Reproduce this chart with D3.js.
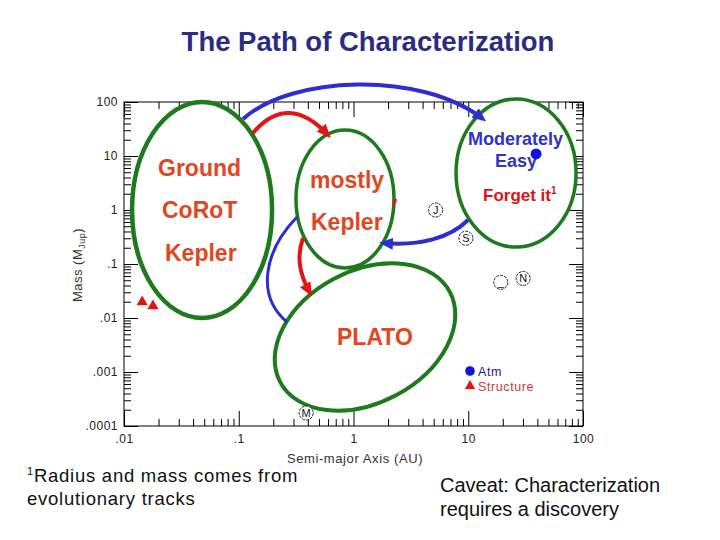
<!DOCTYPE html>
<html><head><meta charset="utf-8">
<script src="https://cdn.jsdelivr.net/npm/d3@7"></script>
<style>
body{margin:0;background:#fff;}
svg{display:block;font-family:"Liberation Sans",Arial,Helvetica,sans-serif;}
</style>
</head><body>
<svg id="chart" width="720" height="540"></svg>
<script>
// ---------------- data ----------------
const xTickValues = [0.01, 0.1, 1, 10, 100];
const xTickLabels = [".01", ".1", "1", "10", "100"];
const yTickValues = [0.0001, 0.001, 0.01, 0.1, 1, 10, 100];
const yTickLabels = [".0001", ".001", ".01", ".1", "1", "10", "100"];

// solar-system reference planets (semi-major axis AU, mass M_Jup)
const planetSymbols = ["M", "J", "S", "_", "N"];
const planetAxis = [0.387, 5.2, 9.54, 19.2, 30.1];
const planetMass = [0.000174, 1.0, 0.30, 0.0457, 0.054];

// characterised exoplanets
const structureAxis = [0.0144, 0.0179];
const structureMass = [0.0198, 0.0167];
const atmAxis = [39];
const atmMass = [10.9];

const legendLabels = ["Atm", "Structure"];

// regions (centre in AU / M_Jup, half size in decades)
const regionNames = ["Ground", "mostly Kepler", "Moderately Easy", "PLATO"];
const regionCenterAU = [0.0479, 0.843, 26.1, 1.26];
const regionCenterMass = [1.0, 1.6, 4.84, 0.00445];
const regionHalfDecX = [0.61, 0.427, 0.523, 0.837];
const regionHalfDecY = [2.0, 1.278, 1.37, 1.222];

// arrows, control points in AU / M_Jup
const arrowTopBlue = [[0.1089, 48.4], [0.280, 303], [3.80, 391], [13.45, 48.4]];
const arrowTopRed = [[0.133, 26.7], [0.2123, 85.4], [0.3508, 83.3], [0.600, 24.5]];
const arrowBackBlue = [[9.95, 0.653], [6.93, 0.303], [3.80, 0.215], [1.81, 0.245]];
const lineLeftBlue = [[0.322, 0.742], [0.169, 0.1817], [0.1386, 0.0267], [0.263, 0.00843]];
const arrowDownRed = [[0.363, 0.303], [0.3155, 0.129], [0.342, 0.0626], [0.418, 0.0290]];
const tickRed = [[2.21, 1.186], [2.35, 1.6]];

// ---------------- layout ----------------
const svg = d3.select("#chart");
const L = 124, R = 583, T = 102, B = 426;
const x = d3.scaleLog().domain([0.01, 100]).range([L, R]);
const y = d3.scaleLog().domain([1e-4, 100]).range([B, T]);

const minorX = [], minorY = [];
for (const d of xTickValues.slice(0, -1)) for (let k = 2; k <= 9; k++) minorX.push(d * k);
for (const d of yTickValues.slice(0, -1)) for (let k = 2; k <= 9; k++) minorY.push(d * k);

const BLUE = "#2d2dd2", RED = "#e41414", GREEN = "#1d7a1d", ORANGE = "#e2461f";

svg.append("rect").attr("width", 720).attr("height", 540).attr("fill", "#fff");

// title
svg.append("text").attr("x", 368).attr("y", 51).attr("text-anchor", "middle")
  .attr("font-size", 27.5).attr("font-weight", "bold").attr("fill", "#2b2b84")
  .text("The Path of Characterization");

// axes
const axG = svg.append("g").attr("class", "axes");
function styleAxis(g) {
  g.select(".domain").remove();
  g.selectAll(".tick line").attr("stroke", "#000").attr("stroke-width", 1);
  g.selectAll(".tick text").attr("fill", "#222").attr("font-size", 12)
    .attr("font-family", "Liberation Sans, Arial, sans-serif").attr("letter-spacing", 0.5);
}
axG.append("g").attr("transform", `translate(0,${B})`)
  .call(d3.axisBottom(x).tickValues(xTickValues).tickFormat((d, i) => xTickLabels[i])
    .tickSizeInner(-15).tickSizeOuter(0).tickPadding(8)).call(styleAxis);
axG.append("g").attr("transform", `translate(0,${B})`)
  .call(d3.axisBottom(x).tickValues(minorX).tickFormat("").tickSizeInner(-7).tickSizeOuter(0)).call(styleAxis);
axG.append("g").attr("transform", `translate(0,${T})`)
  .call(d3.axisTop(x).tickValues(xTickValues).tickFormat("").tickSizeInner(-15).tickSizeOuter(0)).call(styleAxis);
axG.append("g").attr("transform", `translate(0,${T})`)
  .call(d3.axisTop(x).tickValues(minorX).tickFormat("").tickSizeInner(-7).tickSizeOuter(0)).call(styleAxis);
axG.append("g").attr("transform", `translate(${L},0)`)
  .call(d3.axisLeft(y).tickValues(yTickValues).tickFormat((d, i) => yTickLabels[i])
    .tickSizeInner(-14).tickSizeOuter(0).tickPadding(6)).call(styleAxis);
axG.append("g").attr("transform", `translate(${L},0)`)
  .call(d3.axisLeft(y).tickValues(minorY).tickFormat("").tickSizeInner(-7).tickSizeOuter(0)).call(styleAxis);
axG.append("g").attr("transform", `translate(${R},0)`)
  .call(d3.axisRight(y).tickValues(yTickValues).tickFormat("").tickSizeInner(-14).tickSizeOuter(0)).call(styleAxis);
axG.append("g").attr("transform", `translate(${R},0)`)
  .call(d3.axisRight(y).tickValues(minorY).tickFormat("").tickSizeInner(-7).tickSizeOuter(0)).call(styleAxis);
axG.append("rect").attr("x", L).attr("y", T).attr("width", R - L).attr("height", B - T)
  .attr("fill", "none").attr("stroke", "#000").attr("stroke-width", 1);

// axis titles
svg.append("text").attr("x", 355).attr("y", 463).attr("text-anchor", "middle")
  .attr("font-size", 13).attr("fill", "#333").attr("letter-spacing", 0.6)
  .text("Semi-major Axis (AU)");
const yl = svg.append("text").attr("transform", "translate(82,265) rotate(-90)")
  .attr("text-anchor", "middle").attr("font-size", 13).attr("fill", "#333").attr("letter-spacing", 0.5);
yl.append("tspan").text("Mass (M");
yl.append("tspan").attr("font-size", 9).attr("dy", 3).text("Jup");
yl.append("tspan").attr("dy", -3).text(")");

// legend
const lg = svg.append("g");
lg.append("circle").attr("cx", 470).attr("cy", 371).attr("r", 4.8).attr("fill", "#1212e0");
lg.append("path").attr("d", d3.symbol().type(d3.symbolTriangle).size(45)()).attr("fill", RED)
  .attr("transform", "translate(470,386)");
lg.append("text").attr("x", 478).attr("y", 376).attr("font-size", 12.5).attr("letter-spacing", 0.6)
  .attr("fill", "#1c1c7c").text(legendLabels[0]);
lg.append("text").attr("x", 478).attr("y", 391).attr("font-size", 12.5).attr("letter-spacing", 0.6)
  .attr("fill", "#cc3a3a").text(legendLabels[1]);

// regions (ellipses)
const regionRotate = [0, 0, 0, -28];
const regionStroke = [4.5, 3.5, 3.5, 4];
const eg = svg.append("g");
regionNames.forEach((n, i) => {
  const cx = x(regionCenterAU[i]), cy = y(regionCenterMass[i]);
  const rx = x(regionCenterAU[i] * Math.pow(10, regionHalfDecX[i])) - cx;
  const ry = cy - y(regionCenterMass[i] * Math.pow(10, regionHalfDecY[i]));
  eg.append("ellipse").attr("cx", cx).attr("cy", cy).attr("rx", rx).attr("ry", ry)
    .attr("transform", `rotate(${regionRotate[i]},${cx},${cy})`)
    .attr("fill", "#fff").attr("stroke", GREEN).attr("stroke-width", regionStroke[i]);
});

// planets of the solar system
const pg = svg.append("g");
planetSymbols.forEach((s, i) => {
  const cx = x(planetAxis[i]), cy = y(planetMass[i]);
  pg.append("circle").attr("cx", cx).attr("cy", cy).attr("r", 7)
    .attr("fill", "#fff").attr("stroke", "#111").attr("stroke-width", 0.9).attr("stroke-dasharray", "3,1");
  pg.append("text").attr("x", cx).attr("y", cy + 4).attr("text-anchor", "middle")
    .attr("font-size", 11).attr("fill", "#111").text(s);
});

// structure points (red triangles)
const tri = d3.symbol().type(d3.symbolTriangle).size(55);
structureAxis.forEach((a, i) => {
  svg.append("path").attr("d", tri()).attr("fill", RED)
    .attr("transform", `translate(${x(a)},${y(structureMass[i])})`);
});

// region texts
const tg = svg.append("g").attr("font-weight", "bold");
function txt(t, px, py, size, color) {
  return tg.append("text").attr("x", px).attr("y", py).attr("font-size", size).attr("fill", color).text(t);
}
txt("Ground", 158, 176, 23, ORANGE);
txt("CoRoT", 162, 218, 23, ORANGE);
txt("Kepler", 165, 261, 23, ORANGE);
txt("mostly", 310, 188, 23, ORANGE);
txt("Kepler", 311, 230, 23, ORANGE);
txt("PLATO", 337, 345, 23, ORANGE);
txt("Moderately", 468, 145, 18, "#3232c6");
txt("Easy", 495, 167, 18, "#3232c6");
const fg = txt("Forget it", 483, 201, 17, "#d81414");
fg.append("tspan").attr("font-size", 10).attr("dy", -7).text("1");

// atmosphere points (blue dots) drawn above the region
atmAxis.forEach((a, i) => {
  svg.append("circle").attr("cx", x(a)).attr("cy", y(atmMass[i])).attr("r", 5.5).attr("fill", "#1212e0");
});

// arrows
const defs = svg.append("defs");
function marker(id, color) {
  defs.append("marker").attr("id", id).attr("viewBox", "0 0 14 12")
    .attr("refX", 10).attr("refY", 6).attr("markerWidth", 14).attr("markerHeight", 12)
    .attr("markerUnits", "userSpaceOnUse").attr("orient", "auto")
    .append("path").attr("d", "M0,0 L14,6 L0,12 Z").attr("fill", color);
}
marker("hb", BLUE); marker("hr", RED);
function bez(pts) {
  const p = pts.map(d => [x(d[0]), y(d[1])]);
  if (p.length === 2) return `M${p[0]}L${p[1]}`;
  return `M${p[0]}C${p[1]} ${p[2]} ${p[3]}`;
}
const ag = svg.append("g").attr("fill", "none");
ag.append("path").attr("d", bez(arrowTopBlue)).attr("stroke", BLUE).attr("stroke-width", 4).attr("marker-end", "url(#hb)");
ag.append("path").attr("d", bez(arrowTopRed)).attr("stroke", RED).attr("stroke-width", 4).attr("marker-end", "url(#hr)");
ag.append("path").attr("d", bez(arrowBackBlue)).attr("stroke", BLUE).attr("stroke-width", 4).attr("marker-end", "url(#hb)");
ag.append("path").attr("d", bez(lineLeftBlue)).attr("stroke", BLUE).attr("stroke-width", 3);
ag.append("path").attr("d", bez(arrowDownRed)).attr("stroke", RED).attr("stroke-width", 4).attr("marker-end", "url(#hr)");
ag.append("path").attr("d", bez(tickRed)).attr("stroke", RED).attr("stroke-width", 2.5);

// footnotes
const f1 = svg.append("text").attr("x", 27).attr("y", 482).attr("font-size", 18.5).attr("fill", "#111").attr("letter-spacing", 0.75);
f1.append("tspan").attr("font-size", 11).attr("dy", -7).text("1");
f1.append("tspan").attr("dy", 7).text("Radius and mass comes from");
svg.append("text").attr("x", 27).attr("y", 505).attr("font-size", 18.5).attr("fill", "#111").attr("letter-spacing", 0.75)
  .text("evolutionary tracks");
svg.append("text").attr("x", 440).attr("y", 492).attr("font-size", 20).attr("fill", "#111")
  .text("Caveat: Characterization");
svg.append("text").attr("x", 440).attr("y", 516).attr("font-size", 20).attr("fill", "#111")
  .text("requires a discovery");
</script>
</body></html>
